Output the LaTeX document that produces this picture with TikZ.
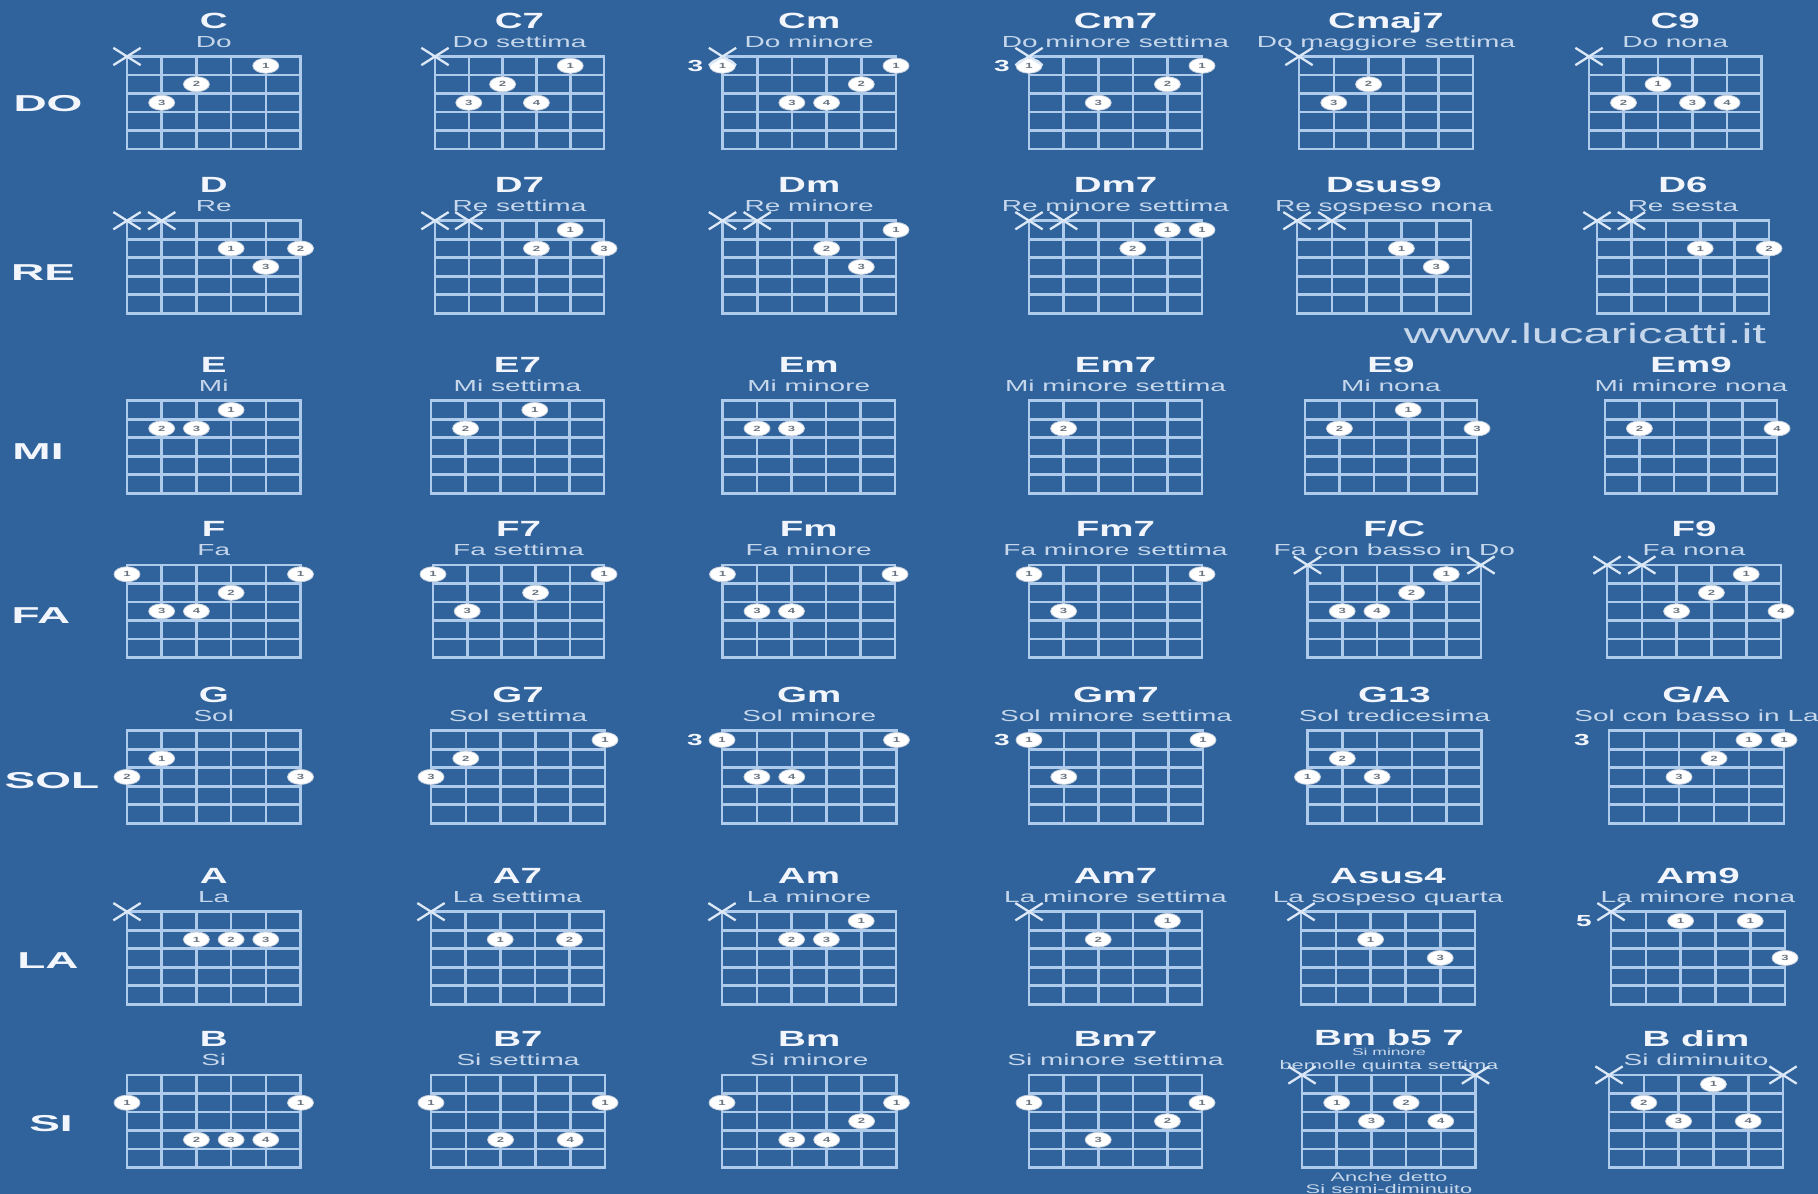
\documentclass[tikz,border=0pt]{standalone}
\usepackage{fontspec}
\setmainfont{Liberation Sans}
\newfontfamily\wide[FakeStretch=1.75]{Liberation Sans}
\newfontfamily\wider[FakeStretch=2.0]{Liberation Sans}
\usetikzlibrary{shapes.geometric,shapes.misc}
\definecolor{bgc}{HTML}{30639B}
\definecolor{gridc}{HTML}{AFCBEC}
\definecolor{titlec}{HTML}{F2F6FC}
\definecolor{subc}{HTML}{C6D7EC}
\definecolor{xc}{HTML}{DCE8F6}
\definecolor{numc}{HTML}{6A7480}
\definecolor{dotedge}{HTML}{C8D2DE}
\def\fh{18.5}
\tikzset{
  gridline/.style={draw=gridc, line width=2.6pt, line cap=rect},
  ctitle/.style={font=\wide\bfseries\fontsize{22}{22}\selectfont, text=titlec, inner sep=0pt, text height=15.8pt, text depth=0pt},
  csub/.style={font=\wide\fontsize{16}{16}\selectfont, text=subc, inner sep=0pt, text height=11.5pt, text depth=0pt},
  csmall/.style={font=\wide\fontsize{12.5}{12.5}\selectfont, text=subc, inner sep=0pt, text height=9pt, text depth=0pt},
  ctiny/.style={font=\wide\fontsize{10}{10}\selectfont, text=subc, inner sep=0pt, text height=7pt, text depth=0pt},
  rowlab/.style={font=\wider\bfseries\fontsize{23}{23}\selectfont, text=titlec, inner sep=0pt, text height=16.5pt, text depth=0pt},
  fretno/.style={font=\wide\bfseries\fontsize{16}{16}\selectfont, text=titlec, inner sep=0pt, text height=11.5pt, text depth=0pt},
  fdot/.style={ellipse, fill=white, draw=dotedge, line width=0.8pt, minimum width=26pt, minimum height=15pt, inner sep=0pt, font=\wide\bfseries\fontsize{7.5}{7.5}\selectfont, text=numc},
  mute/.style={cross out, draw=xc, line width=2.3pt, minimum width=25pt, minimum height=15pt, inner sep=0pt},
  wmark/.style={font=\wide\fontsize{28}{28}\selectfont, text=subc, inner sep=0pt, text height=20pt, text depth=0pt}
}
\newcommand\chordgrid[3]{%
  \pgfmathsetmacro\cxl{#1}%
  \pgfmathsetmacro\cxr{#2}%
  \pgfmathsetmacro\cyt{#3}%
  \pgfmathsetmacro\cdx{(#2-#1)/5}%
  \pgfmathsetmacro\cyb{#3+5*\fh}%
  \foreach \i in {0,...,5}{%
    \draw[gridline] ({\cxl+\i*\cdx},\cyt) -- ({\cxl+\i*\cdx},\cyb);
    \draw[gridline] (\cxl,{\cyt+\i*\fh}) -- (\cxr,{\cyt+\i*\fh});
  }%
}
\newcommand\chordtitle[3]{%
  \node[ctitle] (#1-t) at ({(\cxl+\cxr)/2},{\cyt-36}) {#2};
  \node[csub] (#1-s) at ({(\cxl+\cxr)/2},{\cyt-15}) {#3};
}
\newcommand\chdot[4]{\node[fdot] (#1-#2-#3) at ({\cxl+(#2-1)*\cdx},{\cyt+(#3-0.5)*\fh}) {#4};}
\newcommand\chmute[2]{\node[mute] (#1-x#2) at ({\cxl+(#2-1)*\cdx},\cyt) {};}
\newcommand\chfret[2]{\node[fretno] (#1-fr) at ({\cxl-27},{\cyt+9.5}) {#2};}
\begin{document}
\begin{tikzpicture}[x=1pt,y=-1pt]
\fill[bgc] (0,0) rectangle (1818,1194);
\useasboundingbox (0,0) rectangle (1818,1194);
% row labels
\node[rowlab] (lDO) at (48,103) {DO};
\node[rowlab] (lRE) at (43,272) {RE};
\node[rowlab] (lMI) at (38,451) {MI};
\node[rowlab] (lFA) at (41,615) {FA};
\node[rowlab] (lSOL) at (52,780) {SOL};
\node[rowlab] (lLA) at (48,960) {LA};
\node[rowlab] (lSI) at (51,1123) {SI};
\node[wmark] (www) at (1585,333) {www.lucaricatti.it};
% ---------- DO row
\chordgrid{127}{300.5}{56.5}\chordtitle{C}{C}{Do}
\chmute{C}{1}\chdot{C}{5}{1}{1}\chdot{C}{3}{2}{2}\chdot{C}{2}{3}{3}
\chordgrid{435}{604}{56.5}\chordtitle{Cs}{C7}{Do settima}
\chmute{Cs}{1}\chdot{Cs}{5}{1}{1}\chdot{Cs}{3}{2}{2}\chdot{Cs}{2}{3}{3}\chdot{Cs}{4}{3}{4}
\chordgrid{722.5}{896}{56.5}\chordtitle{Cm}{Cm}{Do minore}
\chfret{Cm}{3}\chdot{Cm}{1}{1}{1}\chmute{Cm}{1}\chdot{Cm}{6}{1}{1}\chdot{Cm}{5}{2}{2}\chdot{Cm}{3}{3}{3}\chdot{Cm}{4}{3}{4}
\chordgrid{1029}{1202}{56.5}\chordtitle{Cms}{Cm7}{Do minore settima}
\chfret{Cms}{3}\chdot{Cms}{1}{1}{1}\chmute{Cms}{1}\chdot{Cms}{6}{1}{1}\chdot{Cms}{5}{2}{2}\chdot{Cms}{3}{3}{3}
\chordgrid{1299}{1473}{56.5}\chordtitle{Cmaj}{Cmaj7}{Do maggiore settima}
\chmute{Cmaj}{1}\chdot{Cmaj}{3}{2}{2}\chdot{Cmaj}{2}{3}{3}
\chordgrid{1589}{1761.5}{56.5}\chordtitle{Cn}{C9}{Do nona}
\chmute{Cn}{1}\chdot{Cn}{3}{2}{1}\chdot{Cn}{2}{3}{2}\chdot{Cn}{4}{3}{3}\chdot{Cn}{5}{3}{4}
% ---------- RE row
\chordgrid{127}{300.5}{220.7}\chordtitle{D}{D}{Re}
\chmute{D}{1}\chmute{D}{2}\chdot{D}{4}{2}{1}\chdot{D}{6}{2}{2}\chdot{D}{5}{3}{3}
\chordgrid{435}{604}{220.7}\chordtitle{Ds}{D7}{Re settima}
\chmute{Ds}{1}\chmute{Ds}{2}\chdot{Ds}{5}{1}{1}\chdot{Ds}{4}{2}{2}\chdot{Ds}{6}{2}{3}
\chordgrid{722.5}{896}{220.7}\chordtitle{Dm}{Dm}{Re minore}
\chmute{Dm}{1}\chmute{Dm}{2}\chdot{Dm}{6}{1}{1}\chdot{Dm}{4}{2}{2}\chdot{Dm}{5}{3}{3}
\chordgrid{1029}{1202}{220.7}\chordtitle{Dms}{Dm7}{Re minore settima}
\chmute{Dms}{1}\chmute{Dms}{2}\chdot{Dms}{5}{1}{1}\chdot{Dms}{6}{1}{1}\chdot{Dms}{4}{2}{2}
\chordgrid{1297}{1471}{220.7}\chordtitle{Dsn}{Dsus9}{Re sospeso nona}
\chmute{Dsn}{1}\chmute{Dsn}{2}\chdot{Dsn}{4}{2}{1}\chdot{Dsn}{5}{3}{3}
\chordgrid{1597}{1769}{220.7}\chordtitle{Dsx}{D6}{Re sesta}
\chmute{Dsx}{1}\chmute{Dsx}{2}\chdot{Dsx}{4}{2}{1}\chdot{Dsx}{6}{2}{2}
% ---------- MI row
\chordgrid{127}{300.5}{400.7}\chordtitle{E}{E}{Mi}
\chdot{E}{4}{1}{1}\chdot{E}{2}{2}{2}\chdot{E}{3}{2}{3}
\chordgrid{431}{604}{400.7}\chordtitle{Es}{E7}{Mi settima}
\chdot{Es}{4}{1}{1}\chdot{Es}{2}{2}{2}
\chordgrid{722.5}{895}{400.7}\chordtitle{Em}{Em}{Mi minore}
\chdot{Em}{2}{2}{2}\chdot{Em}{3}{2}{3}
\chordgrid{1029}{1202}{400.7}\chordtitle{Ems}{Em7}{Mi minore settima}
\chdot{Ems}{2}{2}{2}
\chordgrid{1305}{1477}{400.7}\chordtitle{En}{E9}{Mi nona}
\chdot{En}{4}{1}{1}\chdot{En}{2}{2}{2}\chdot{En}{6}{2}{3}
\chordgrid{1605}{1777}{400.7}\chordtitle{Emn}{Em9}{Mi minore nona}
\chdot{Emn}{2}{2}{2}\chdot{Emn}{6}{2}{4}
% ---------- FA row
\chordgrid{127}{300.5}{565}\chordtitle{F}{F}{Fa}
\chdot{F}{1}{1}{1}\chdot{F}{6}{1}{1}\chdot{F}{4}{2}{2}\chdot{F}{2}{3}{3}\chdot{F}{3}{3}{4}
\chordgrid{433}{604}{565}\chordtitle{Fs}{F7}{Fa settima}
\chdot{Fs}{1}{1}{1}\chdot{Fs}{6}{1}{1}\chdot{Fs}{4}{2}{2}\chdot{Fs}{2}{3}{3}
\chordgrid{722.5}{895}{565}\chordtitle{Fm}{Fm}{Fa minore}
\chdot{Fm}{1}{1}{1}\chdot{Fm}{6}{1}{1}\chdot{Fm}{2}{3}{3}\chdot{Fm}{3}{3}{4}
\chordgrid{1029}{1202}{565}\chordtitle{Fms}{Fm7}{Fa minore settima}
\chdot{Fms}{1}{1}{1}\chdot{Fms}{6}{1}{1}\chdot{Fms}{2}{3}{3}
\chordgrid{1307.5}{1481}{565}\chordtitle{FC}{F/C}{Fa con basso in Do}
\chmute{FC}{1}\chmute{FC}{6}\chdot{FC}{5}{1}{1}\chdot{FC}{4}{2}{2}\chdot{FC}{2}{3}{3}\chdot{FC}{3}{3}{4}
\chordgrid{1607}{1781}{565}\chordtitle{Fn}{F9}{Fa nona}
\chmute{Fn}{1}\chmute{Fn}{2}\chdot{Fn}{5}{1}{1}\chdot{Fn}{4}{2}{2}\chdot{Fn}{3}{3}{3}\chdot{Fn}{6}{3}{4}
% ---------- SOL row
\chordgrid{127}{300.5}{730.7}\chordtitle{G}{G}{Sol}
\chdot{G}{2}{2}{1}\chdot{G}{1}{3}{2}\chdot{G}{6}{3}{3}
\chordgrid{431}{605}{730.7}\chordtitle{Gs}{G7}{Sol settima}
\chdot{Gs}{6}{1}{1}\chdot{Gs}{2}{2}{2}\chdot{Gs}{1}{3}{3}
\chordgrid{722}{896.5}{730.7}\chordtitle{Gm}{Gm}{Sol minore}
\chfret{Gm}{3}\chdot{Gm}{1}{1}{1}\chdot{Gm}{6}{1}{1}\chdot{Gm}{2}{3}{3}\chdot{Gm}{3}{3}{4}
\chordgrid{1029}{1203}{730.7}\chordtitle{Gms}{Gm7}{Sol minore settima}
\chfret{Gms}{3}\chdot{Gms}{1}{1}{1}\chdot{Gms}{6}{1}{1}\chdot{Gms}{2}{3}{3}
\chordgrid{1307.5}{1481.5}{730.7}\chordtitle{Gt}{G13}{Sol tredicesima}
\chdot{Gt}{2}{2}{2}\chdot{Gt}{1}{3}{1}\chdot{Gt}{3}{3}{3}
\chordgrid{1609}{1784}{730.7}\chordtitle{GA}{G/A}{Sol con basso in La}
\chfret{GA}{3}\chdot{GA}{5}{1}{1}\chdot{GA}{6}{1}{1}\chdot{GA}{4}{2}{2}\chdot{GA}{3}{3}{3}
% ---------- LA row
\chordgrid{127}{300.5}{911.7}\chordtitle{A}{A}{La}
\chmute{A}{1}\chdot{A}{3}{2}{1}\chdot{A}{4}{2}{2}\chdot{A}{5}{2}{3}
\chordgrid{431}{604}{911.7}\chordtitle{As}{A7}{La settima}
\chmute{As}{1}\chdot{As}{3}{2}{1}\chdot{As}{5}{2}{2}
\chordgrid{722}{896}{911.7}\chordtitle{Am}{Am}{La minore}
\chmute{Am}{1}\chdot{Am}{5}{1}{1}\chdot{Am}{3}{2}{2}\chdot{Am}{4}{2}{3}
\chordgrid{1029}{1202}{911.7}\chordtitle{Ams}{Am7}{La minore settima}
\chmute{Ams}{1}\chdot{Ams}{5}{1}{1}\chdot{Ams}{3}{2}{2}
\chordgrid{1301}{1475}{911.7}\chordtitle{Asq}{Asus4}{La sospeso quarta}
\chmute{Asq}{1}\chdot{Asq}{3}{2}{1}\chdot{Asq}{5}{3}{3}
\chordgrid{1611}{1785}{911.7}\chordtitle{Amn}{Am9}{La minore nona}
\chfret{Amn}{5}\chmute{Amn}{1}\chdot{Amn}{3}{1}{1}\chdot{Amn}{5}{1}{1}\chdot{Amn}{6}{3}{3}
% ---------- SI row
\chordgrid{127}{300.5}{1075}\chordtitle{B}{B}{Si}
\chdot{B}{1}{2}{1}\chdot{B}{6}{2}{1}\chdot{B}{3}{4}{2}\chdot{B}{4}{4}{3}\chdot{B}{5}{4}{4}
\chordgrid{431}{605}{1075}\chordtitle{Bs}{B7}{Si settima}
\chdot{Bs}{1}{2}{1}\chdot{Bs}{6}{2}{1}\chdot{Bs}{3}{4}{2}\chdot{Bs}{5}{4}{4}
\chordgrid{722}{896.5}{1075}\chordtitle{Bm}{Bm}{Si minore}
\chdot{Bm}{1}{2}{1}\chdot{Bm}{6}{2}{1}\chdot{Bm}{5}{3}{2}\chdot{Bm}{3}{4}{3}\chdot{Bm}{4}{4}{4}
\chordgrid{1029}{1202}{1075}\chordtitle{Bms}{Bm7}{Si minore settima}
\chdot{Bms}{1}{2}{1}\chdot{Bms}{6}{2}{1}\chdot{Bms}{5}{3}{2}\chdot{Bms}{3}{4}{3}
\chordgrid{1302}{1475.5}{1075}
\node[ctitle] (Bhd-t) at (1389,1037.5) {Bm b5 7};
\node[ctiny] (Bhd-s1) at (1389,1052) {Si minore};
\node[csmall] (Bhd-s2) at (1389,1064.5) {bemolle quinta settima};
\node[csmall] (Bhd-n1) at (1389,1177) {Anche detto};
\node[csmall] (Bhd-n2) at (1389,1189) {Si semi-diminuito};
\chmute{Bhd}{1}\chmute{Bhd}{6}\chdot{Bhd}{2}{2}{1}\chdot{Bhd}{4}{2}{2}\chdot{Bhd}{3}{3}{3}\chdot{Bhd}{5}{3}{4}
\chordgrid{1609}{1783}{1075}\chordtitle{Bd}{B dim}{Si diminuito}
\chmute{Bd}{1}\chmute{Bd}{6}\chdot{Bd}{4}{1}{1}\chdot{Bd}{2}{2}{2}\chdot{Bd}{3}{3}{3}\chdot{Bd}{5}{3}{4}
\end{tikzpicture}
\end{document}
